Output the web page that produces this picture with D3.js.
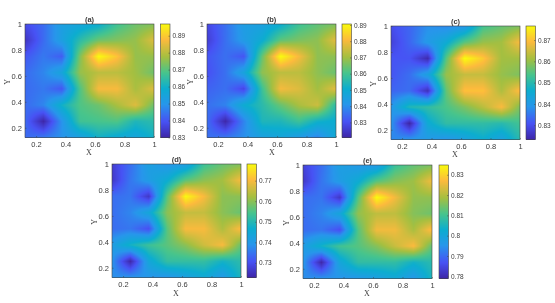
<!DOCTYPE html>
<html>
<head>
<meta charset="utf-8">
<script src="https://cdn.jsdelivr.net/npm/d3@7"></script>
<style>
  html, body { margin: 0; padding: 0; background: #fff; overflow: hidden; }
  #wrap { position: relative; width: 555px; height: 303px; filter: blur(0.45px); }
  canvas, svg { position: absolute; left: 0; top: 0; }
  text { font-family: "Liberation Sans", Arial, sans-serif; fill: #3c3c3c; }
</style>
</head>
<body>
<div id="wrap"></div>
<script>
// grid positions, same for every panel
var xValues = [0.125, 0.25, 0.375, 0.5, 0.625, 0.75, 0.875, 1];
var yValues = [1, 0.875, 0.75, 0.625, 0.5, 0.375, 0.25, 0.125];
var axisTicks = [0.2, 0.4, 0.6, 0.8, 1];

// values, one row per yValues entry
var valuesA = [
  [.838,.843,.853,.855,.858,.867,.872,.874],
  [.833,.843,.853,.864,.872,.874,.876,.884],
  [.840,.845,.841,.874,.897,.889,.876,.876],
  [.843,.847,.855,.876,.880,.880,.877,.872],
  [.843,.845,.840,.869,.887,.887,.878,.884],
  [.843,.847,.860,.869,.872,.878,.884,.872],
  [.843,.830,.849,.867,.868,.869,.862,.864],
  [.843,.845,.849,.853,.860,.857,.855,.860]
];
var valuesB = [
  [.828,.835,.844,.845,.850,.859,.863,.866],
  [.826,.835,.843,.850,.863,.866,.868,.878],
  [.831,.835,.831,.864,.891,.880,.868,.868],
  [.830,.835,.846,.868,.873,.873,.868,.864],
  [.833,.835,.828,.859,.880,.877,.870,.878],
  [.835,.838,.850,.856,.864,.871,.875,.856],
  [.835,.821,.838,.854,.854,.859,.852,.850],
  [.835,.836,.840,.845,.847,.843,.838,.849]
];
var valuesC = [
  [.830,.833,.838,.837,.839,.853,.856,.858],
  [.828,.833,.840,.845,.855,.860,.861,.869],
  [.831,.831,.824,.855,.877,.871,.861,.861],
  [.831,.834,.842,.860,.864,.864,.860,.858],
  [.833,.834,.825,.856,.870,.870,.862,.870],
  [.839,.849,.851,.854,.858,.863,.869,.858],
  [.839,.823,.845,.851,.851,.851,.850,.853],
  [.837,.839,.840,.839,.842,.846,.842,.850]
];
var valuesD = [
  [.727,.734,.742,.739,.741,.753,.757,.759],
  [.726,.735,.741,.746,.756,.760,.762,.770],
  [.734,.735,.726,.756,.778,.770,.760,.760],
  [.734,.737,.744,.760,.765,.765,.760,.757],
  [.734,.735,.730,.756,.770,.770,.763,.771],
  [.741,.748,.753,.756,.760,.766,.770,.757],
  [.739,.723,.744,.752,.752,.752,.748,.751],
  [.738,.739,.739,.739,.742,.745,.740,.749]
];
var valuesE = [
  [.784,.790,.798,.796,.796,.809,.813,.815],
  [.782,.791,.797,.802,.812,.816,.818,.826],
  [.790,.791,.782,.812,.835,.826,.817,.817],
  [.790,.793,.800,.817,.821,.821,.816,.814],
  [.790,.791,.786,.812,.826,.826,.819,.828],
  [.797,.804,.810,.812,.816,.822,.827,.813],
  [.796,.779,.800,.808,.808,.808,.804,.807],
  [.794,.795,.795,.796,.798,.801,.796,.805]
];

// colour limits and colorbar ticks
var limitsA = [0.83, 0.8969], ticksA = [0.83, 0.84, 0.85, 0.86, 0.87, 0.88, 0.89];
var limitsB = [0.8207, 0.8906], ticksB = [0.83, 0.84, 0.85, 0.86, 0.87, 0.88, 0.89];
var limitsC = [0.8233, 0.8766], ticksC = [0.83, 0.84, 0.85, 0.86, 0.87];
var limitsD = [0.7229, 0.7781], ticksD = [0.73, 0.74, 0.75, 0.76, 0.77];
var limitsE = [0.7789, 0.8348], ticksE = [0.78, 0.79, 0.8, 0.81, 0.82, 0.83];

// parula
var parula = d3.scaleLinear()
  .domain([0, 0.14, 0.29, 0.43, 0.57, 0.71, 0.86, 1])
  .range(["#3e26a8", "#4752f4", "#2796eb", "#0cadcf", "#47c48c", "#a5bf40", "#fcba3d", "#f9fa0e"])
  .clamp(true);

var panels = [
  { title: "(a)", values: valuesA, limits: limitsA, ticks: ticksA, left: 25, top: 24, bar: 160.5, xl: 89, xly: 155, yl: 7 },
  { title: "(b)", values: valuesB, limits: limitsB, ticks: ticksB, left: 207, top: 24, bar: 342, xl: 272, xly: 155, yl: 190 },
  { title: "(c)", values: valuesC, limits: limitsC, ticks: ticksC, left: 391, top: 26, bar: 526, xl: 455, xly: 157, yl: 373 },
  { title: "(d)", values: valuesD, limits: limitsD, ticks: ticksD, left: 112, top: 164, bar: 247, xl: 176, xly: 296, yl: 94 },
  { title: "(e)", values: valuesE, limits: limitsE, ticks: ticksE, left: 303, top: 165, bar: 439, xl: 367, xly: 296, yl: 286 }
];
var plotW = 129, plotH = 113.5, barW = 9.5;

var wrap = d3.select("#wrap");
var canvas = wrap.append("canvas").attr("width", 555).attr("height", 303);
var ctx = canvas.node().getContext("2d");
var svg = wrap.append("svg").attr("width", 555).attr("height", 303);

// bilinear lookup, same as shading interp
function valueAt(rows, xv, yv) {
  var i = Math.min(Math.max(d3.bisectRight(xValues, xv) - 1, 0), xValues.length - 2);
  var ascY = yValues.slice().reverse();
  var j = Math.min(Math.max(d3.bisectRight(ascY, yv) - 1, 0), ascY.length - 2);
  var tx = (xv - xValues[i]) / (xValues[i + 1] - xValues[i]);
  var ty = (yv - ascY[j]) / (ascY[j + 1] - ascY[j]);
  var r0 = rows[rows.length - 1 - j], r1 = rows[rows.length - 2 - j];
  return (r0[i] * (1 - tx) + r0[i + 1] * tx) * (1 - ty) + (r1[i] * (1 - tx) + r1[i + 1] * tx) * ty;
}

panels.forEach(function(p) {
  var x = d3.scaleLinear().domain([0.125, 1]).range([p.left, p.left + plotW]);
  var y = d3.scaleLinear().domain([0.125, 1]).range([p.top + plotH, p.top]);
  var c = d3.scaleLinear().domain(p.limits).range([0, 1]);
  var barY = d3.scaleLinear().domain(p.limits).range([p.top + plotH, p.top]);

  // heat map
  for (var px = p.left; px < p.left + plotW; px++) {
    for (var py = p.top; py < p.top + plotH; py++) {
      ctx.fillStyle = parula(c(valueAt(p.values, x.invert(px + 0.5), y.invert(py + 0.5))));
      ctx.fillRect(px, py, 1, 1);
    }
  }
  // colorbar
  for (var by = p.top; by < p.top + plotH; by++) {
    ctx.fillStyle = parula(c(barY.invert(by + 0.5)));
    ctx.fillRect(p.bar, by, barW, 1);
  }

  var g = svg.append("g");
  g.append("g")
    .attr("transform", "translate(0," + (p.top + plotH) + ")")
    .call(d3.axisBottom(x).tickValues(axisTicks).tickFormat(d3.format("~g")).tickSize(-1.5).tickPadding(4))
    .call(styleAxis);
  g.append("g")
    .attr("transform", "translate(" + p.left + ",0)")
    .call(d3.axisLeft(y).tickValues(axisTicks).tickFormat(d3.format("~g")).tickSize(-1.5).tickPadding(3))
    .call(styleAxis);
  g.append("rect")
    .attr("x", p.left).attr("y", p.top)
    .attr("width", plotW).attr("height", plotH)
    .attr("fill", "none").attr("stroke", "#444").attr("stroke-width", 0.6);

  var barAxis = g.append("g")
    .attr("transform", "translate(" + (p.bar + barW) + ",0)")
    .call(d3.axisRight(barY).tickValues(p.ticks).tickFormat(d3.format("~g")).tickSize(-1.5).tickPadding(2.5))
    .call(styleAxis);
  barAxis.selectAll("text").style("font-size", "6.5px");
  g.append("rect")
    .attr("x", p.bar).attr("y", p.top)
    .attr("width", barW).attr("height", plotH)
    .attr("fill", "none").attr("stroke", "#444").attr("stroke-width", 0.6);

  g.append("text")
    .attr("x", p.left + plotW / 2).attr("y", p.top - 2.5)
    .attr("text-anchor", "middle")
    .style("font-size", "7.5px").style("font-weight", "bold")
    .text(p.title);
  g.append("text")
    .attr("x", p.xl).attr("y", p.xly)
    .attr("text-anchor", "middle")
    .style("font-size", "8px").style("font-family", "'Liberation Serif', serif")
    .text("X");
  g.append("text")
    .attr("transform", "translate(" + p.yl + "," + (p.top + plotH / 2 + 1) + ") rotate(-90)")
    .attr("text-anchor", "middle").attr("dy", "0.35em")
    .style("font-size", "8px").style("font-family", "'Liberation Serif', serif")
    .text("Y");
});

function styleAxis(sel) {
  sel.select(".domain").remove();
  sel.selectAll("line").attr("stroke", "#444").attr("stroke-width", 0.5);
  sel.selectAll("text").style("font-size", "7.5px");
}
</script>
</body>
</html>
